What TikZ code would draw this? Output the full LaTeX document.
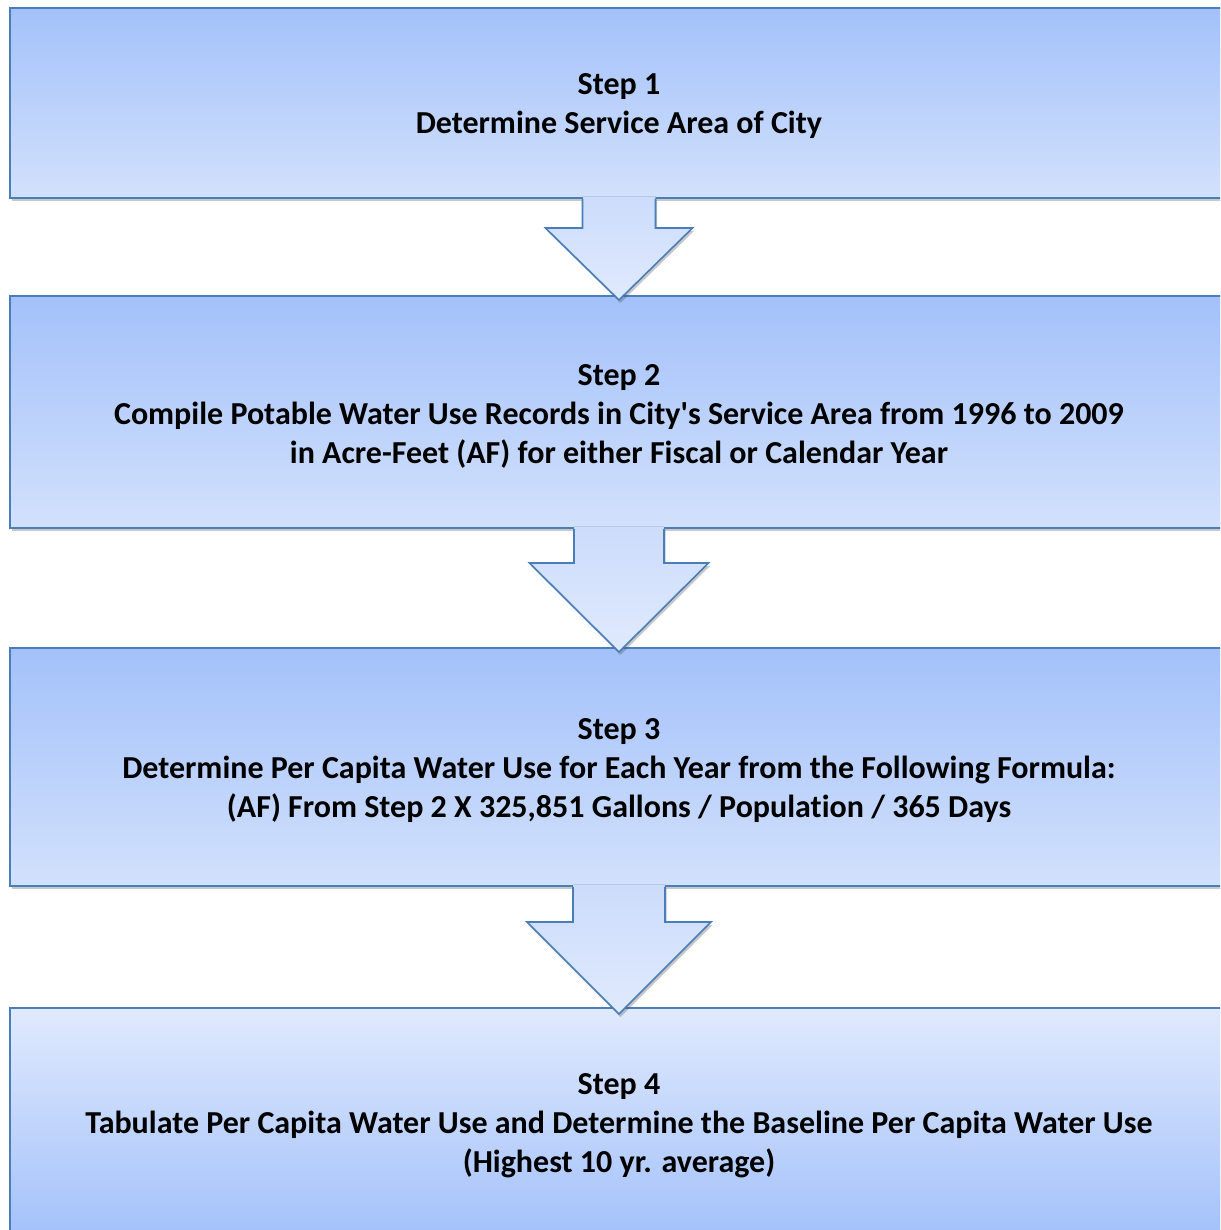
\documentclass[tikz,border=0pt]{standalone}
\usepackage{fontspec}
\setmainfont{Carlito}[Ligatures={TeXOff,CommonOff}]
\usetikzlibrary{shadows,calc}
\definecolor{edge}{HTML}{4A7EBB}
\definecolor{bdark}{HTML}{A3C1FA}
\definecolor{blight}{HTML}{D2E1FC}
\definecolor{alight}{HTML}{E0EAFD}
\definecolor{amid}{HTML}{CCDCFB}
\tikzset{
  stepbox/.style={draw=edge, line width=1.6pt, outer sep=0pt, inner sep=0pt,
    top color=bdark, bottom color=blight, minimum width=1218pt,
    drop shadow={shadow xshift=1.5pt, shadow yshift=-3pt, opacity=0.3, fill=black!70}},
  revbox/.style={stepbox, top color=alight, bottom color=bdark},
  steptext/.style={align=center, inner sep=0pt, font=\bfseries\fontsize{32}{39}\selectfont},
  arrowfill/.style={top color=amid, bottom color=alight,
    drop shadow={shadow xshift=1.5pt, shadow yshift=-3pt, opacity=0.3, fill=black!70}},
  arrowline/.style={draw=edge, line width=1.6pt, line join=miter}
}
\newcommand\flowarrow[6]{%
  \fill[arrowfill] ($(#1.south)+(-#3,-1.2)$) -- ($(#1.south)+(-#3,#5)$) -- ($(#1.south)+(-#4,#5)$)
    -- ($(#2.north)+(0,#6)$) -- ($(#1.south)+(#4,#5)$) -- ($(#1.south)+(#3,#5)$) -- ($(#1.south)+(#3,-1.2)$) -- cycle;
  \draw[arrowline] ($(#1.south)+(-#3,0.8)$) -- ($(#1.south)+(-#3,#5)$) -- ($(#1.south)+(-#4,#5)$)
    -- ($(#2.north)+(0,#6)$) -- ($(#1.south)+(#4,#5)$) -- ($(#1.south)+(#3,#5)$) -- ($(#1.south)+(#3,0.8)$);
}
\begin{document}
\begin{tikzpicture}[x=1pt,y=-1pt]
\useasboundingbox (0,0) rectangle (1220,1230);
\clip (0,0) rectangle (1220,1230);
\fill[white] (0,0) rectangle (1220,1230);
\node[stepbox, minimum height=190pt] (s1) at (619,103) {};
\node[stepbox, minimum height=232pt] (s2) at (619,412) {};
\node[stepbox, minimum height=238pt] (s3) at (619,767) {};
\node[revbox, minimum height=228pt] (s4) at (619,1122) {};
\node[steptext] (t1) at ($(s1.center)+(0,3.5)$) {Step 1\\Determine Service Area of City};
\node[steptext] (t2) at ($(s2.center)+(0,4)$) {Step 2\\Compile Potable Water Use Records in City's Service Area from 1996 to 2009\\in Acre-Feet (AF) for either Fiscal or Calendar Year};
\node[steptext] (t3) at ($(s3.center)+(0,4)$) {Step 3\\Determine Per Capita Water Use for Each Year from the Following Formula:\\(AF) From Step 2 X 325,851 Gallons / Population / 365 Days};
\node[steptext] (t4) at ($(s4.center)+(0,3.5)$) {Step 4\\Tabulate Per Capita Water Use and Determine the Baseline Per Capita Water Use\\(Highest 10 yr. average)};
\flowarrow{s1}{s2}{36.5}{73.5}{30}{4}
\flowarrow{s2}{s3}{45}{89.5}{35}{4}
\flowarrow{s3}{s4}{46}{92}{36}{6}
\end{tikzpicture}
\end{document}
